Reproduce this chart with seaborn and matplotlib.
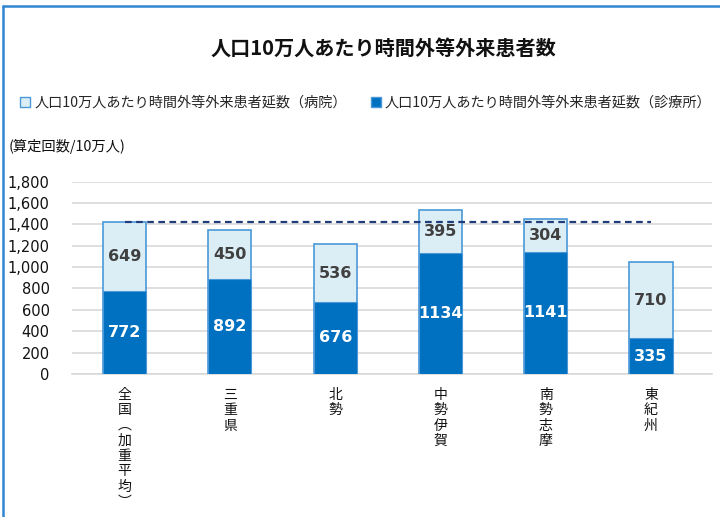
import matplotlib
matplotlib.use('Agg')
import matplotlib.pyplot as plt
from matplotlib.patches import Patch
from matplotlib.lines import Line2D
import seaborn as sns
import pandas as pd

regions = ['全国（加重平均）', '三重県', '北勢', '中勢伊賀', '南勢志摩', '東紀州']
clinic = [772, 892, 676, 1134, 1141, 335]
hospital = [649, 450, 536, 395, 304, 710]
national_total = 772 + 649
yticks = [0, 200, 400, 600, 800, 1000, 1200, 1400, 1600, 1800]

title = '人口10万人あたり時間外等外来患者数'
label_hosp = '人口10万人あたり時間外等外来患者延数（病院）'
label_clinic = '人口10万人あたり時間外等外来患者延数（診療所）'
unit = '(算定回数/10万人)'

sns.set_theme(style='white')
plt.rcParams['font.family'] = ['Noto Sans CJK JP', 'DejaVu Sans']

LIGHT = '#DCEEF5'
DARK = '#0070C0'
EDGE = '#4A98D8'

df = pd.DataFrame({'region': regions, 'clinic': clinic, 'hospital': hospital})
df['total'] = df['clinic'] + df['hospital']

fig = plt.figure(figsize=(7.2, 5.17), dpi=100)
ax = fig.add_axes([0.1, 0.2766, 0.889, 0.3723])

sns.barplot(data=df, x='region', y='total', color=LIGHT, saturation=1,
            width=0.41, edgecolor=EDGE, linewidth=1.2, ax=ax, zorder=3)
sns.barplot(data=df, x='region', y='clinic', color=DARK, saturation=1,
            width=0.41, edgecolor=EDGE, linewidth=0.8, ax=ax, zorder=4)

ax.hlines(national_total, 0, len(regions) - 1, colors='#1F3D7A',
          linestyles=(0, (3, 2)), linewidth=1.6, zorder=5)

for i, (c, h) in enumerate(zip(clinic, hospital)):
    ax.text(i, c / 2, str(c), ha='center', va='center', color='white',
            fontsize=11.5, fontweight='bold', family='DejaVu Sans', zorder=6)
    ax.text(i, c + h / 2, str(h), ha='center', va='center', color='#404040',
            fontsize=11.5, fontweight='bold', family='DejaVu Sans', zorder=6)

ax.set_xlim(-0.5, len(regions) - 0.42)
ax.set_ylim(0, 1800)
ax.set_yticks(yticks)
ax.set_yticklabels([f'{v:,}' for v in yticks], family='DejaVu Sans',
                   fontsize=10.5, color='#111111')
ax.yaxis.grid(True, color='#D9D9D9', linewidth=1.2, zorder=0)
ax.set_axisbelow(True)
ax.tick_params(axis='y', length=0, pad=16)
ax.tick_params(axis='x', length=0, pad=10)
vert = [r.replace('（', '︵').replace('）', '︶') for r in regions]
ax.set_xticks(range(len(regions)))
ax.set_xticklabels(['\n'.join(v) for v in vert], fontsize=10,
                   linespacing=1.12, va='top', color='#111111')
ax.set_xlabel('')
ax.set_ylabel('')
for s in ['top', 'right', 'left']:
    ax.spines[s].set_visible(False)
ax.spines['bottom'].set_color('#D9D9D9')
ax.spines['bottom'].set_linewidth(1.2)

fig.text(0.532, 0.907, title, ha='center', va='center', fontsize=14.5,
         fontweight='bold', color='#111111')

handles = [Patch(facecolor=LIGHT, edgecolor=EDGE, linewidth=1),
           Patch(facecolor=DARK, edgecolor=EDGE, linewidth=1)]
fig.legend(handles, [label_hosp, label_clinic], loc='center left',
           bbox_to_anchor=(0.01, 0.801), ncol=2, frameon=False, fontsize=10.2,
           handlelength=0.7, handleheight=0.7, handletextpad=0.3,
           columnspacing=1.7)

fig.text(0.012, 0.717, unit, ha='left', va='center', fontsize=10.3, color='#111111')

fig.add_artist(Line2D([0.004, 1.0], [0.989, 0.989], color='#2E86D0',
                      linewidth=1.8, transform=fig.transFigure))
fig.add_artist(Line2D([0.0048, 0.0048], [0.0, 0.989], color='#2E86D0',
                      linewidth=1.8, transform=fig.transFigure))

fig.savefig('out.png', dpi=100)
